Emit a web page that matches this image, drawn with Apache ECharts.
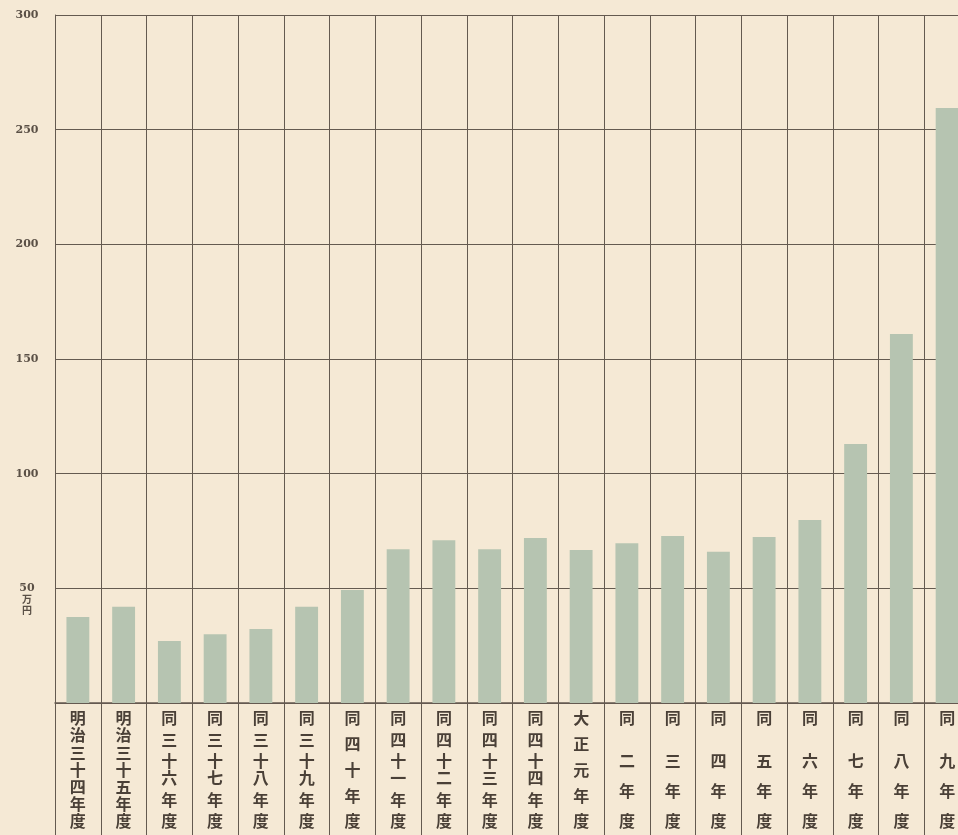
<!DOCTYPE html>
<html><head><meta charset="utf-8">
<script src="https://cdn.jsdelivr.net/npm/echarts@6/dist/echarts.min.js"></script>
<style>html,body{margin:0;padding:0;background:#f5e9d5;overflow:hidden;width:958px;height:835px;}#c{width:970px;height:835px;}</style>
</head><body><div id="c"></div>
<script>
const categories = ['明治三十四年度','明治三十五年度','同三十六年度','同三十七年度','同三十八年度','同三十九年度','同四十年度','同四十一年度','同四十二年度','同四十三年度','同四十四年度','大正元年度','同二年度','同三年度','同四年度','同五年度','同六年度','同七年度','同八年度','同九年度'];
const values = [37.5, 42, 27, 30, 32.3, 42, 49.3, 67, 71, 67, 72, 66.7, 69.7, 72.8, 66, 72.4, 79.8, 112.9, 160.9, 259.5];
const yTicks = [0, 50, 100, 150, 200, 250, 300];
const unitLabel = ['万', '円'];

function vert(s) {
  const ch = [...s];
  const n = ch.length;
  const slots = n === 4 ? [0, 10, 17, 24] : ch.map((c, i) => Math.round(i * 24 / (n - 1)));
  const lines = new Array(25).fill('');
  ch.forEach((c, i) => { lines[slots[i]] = c; });
  return lines.join('\n');
}
const lineCol = '#645a50';
const chart = echarts.init(document.getElementById('c'), null, {renderer: 'canvas'});
chart.setOption({
  backgroundColor: '#f5e9d5',
  animation: false,
  grid: {left: 55, right: 0, top: 15, bottom: 132, containLabel: false},
  xAxis: {
    type: 'category',
    data: categories,
    boundaryGap: true,
    axisLine: {show: true, lineStyle: {color: lineCol, width: 1.5}},
    axisTick: {show: true, length: 132, interval: 0, lineStyle: {color: lineCol, width: 1}},
    splitLine: {show: true, interval: 0, lineStyle: {color: lineCol, width: 1}},
    axisLabel: {
      interval: 0, margin: 13, lineHeight: 4.3, fontSize: 16,
      fontFamily: 'Noto Sans CJK JP', fontWeight: 'bold', color: '#4a4037',
      verticalAlign: 'top',
      formatter: v => vert(v)
    }
  },
  yAxis: {
    type: 'value', min: yTicks[0], max: yTicks[yTicks.length - 1], interval: 50,
    axisLine: {show: true, lineStyle: {color: lineCol, width: 1}},
    axisTick: {show: false},
    splitLine: {show: true, lineStyle: {color: lineCol, width: 1}},
    axisLabel: {
      margin: 28, align: 'center', fontSize: 11, lineHeight: 11, fontFamily: 'DejaVu Serif', fontWeight: 'bold', color: '#5a5046',
      formatter: v => v === 0 ? '' : (v === 50 ? '\n\n50\n{u|' + unitLabel[0] + '}\n{u|' + unitLabel[1] + '}' : String(v)),
      rich: {u: {fontSize: 10, lineHeight: 11, fontFamily: 'Noto Sans CJK JP', fontWeight: 'bold', color: '#5a5046'}}
    }
  },
  series: [{
    type: 'bar', data: values, barWidth: '50%',
    itemStyle: {color: '#b6c4b1'}
  }]
});
</script></body></html>
